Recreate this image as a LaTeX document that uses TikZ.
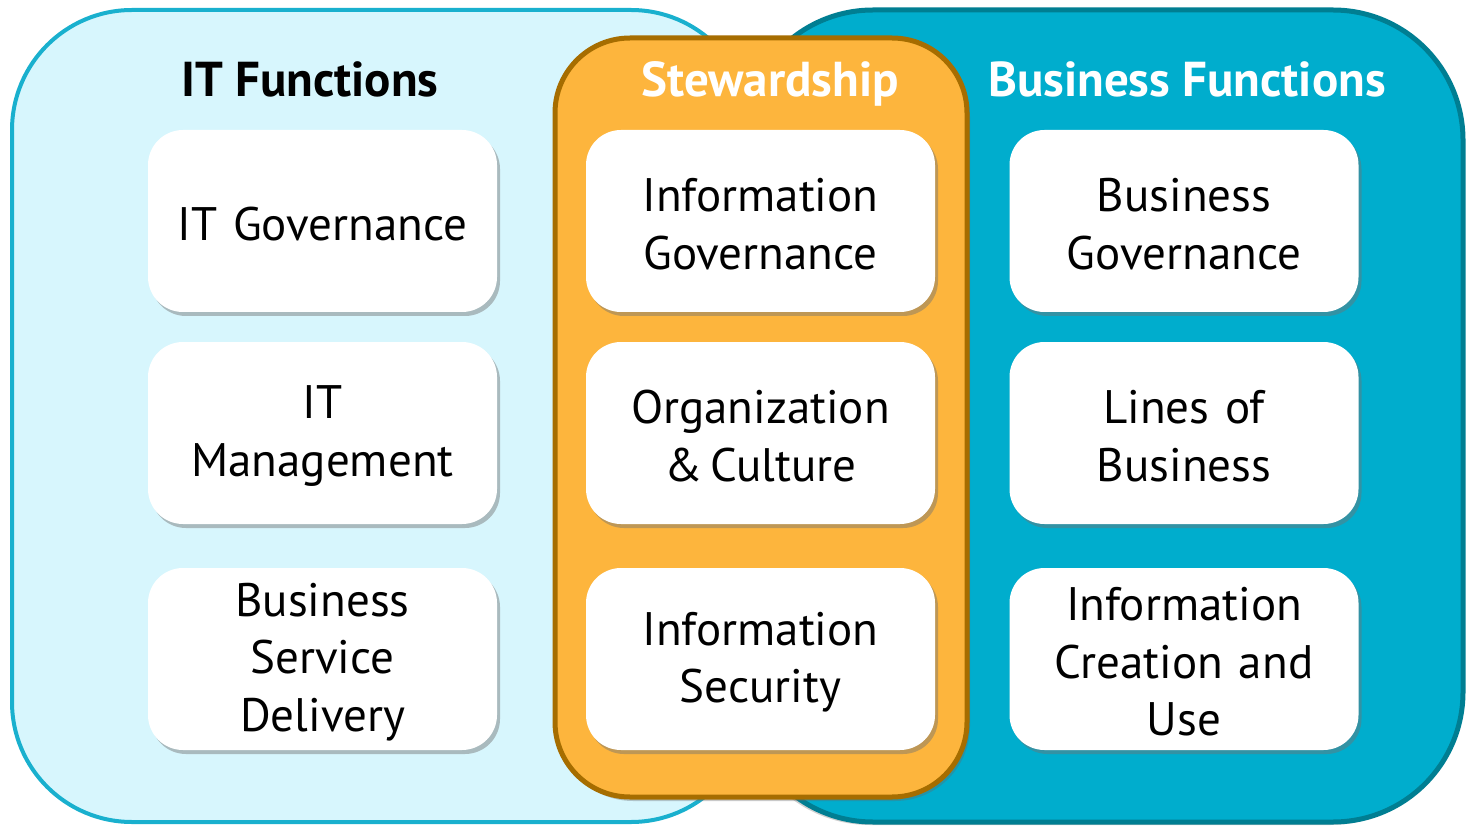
\documentclass[tikz,border=0pt]{standalone}
\usepackage{fontspec}
\setmainfont{PT Sans}
\usetikzlibrary{shadows}
\definecolor{ltfill}{HTML}{D7F6FD}
\definecolor{ltline}{HTML}{19B0CE}
\definecolor{dkfill}{HTML}{00ADCD}
\definecolor{dkline}{HTML}{007E92}
\definecolor{orfill}{HTML}{FDB53D}
\definecolor{orline}{HTML}{A66D00}
\tikzset{
  container/.style={rectangle, inner sep=0pt, outer sep=0pt},
  wbox/.style={rectangle, rounded corners=35pt, fill=white, minimum width=349pt, minimum height=182pt,
    inner sep=0pt,
    drop shadow={shadow xshift=3pt, shadow yshift=-4pt, fill=black!55, opacity=0.45}},
  wtext/.style={text width=340pt, align=center, inner sep=0pt, font=\fontsize{47}{57.5}\selectfont, yshift=-3pt},
  title/.style={font=\bfseries\fontsize{49}{58}\selectfont, inner sep=0pt, anchor=base}
}
\begin{document}
\begin{tikzpicture}[x=1pt,y=-1pt]
\useasboundingbox (0,0) rectangle (1467,826);
\fill[white] (0,0) rectangle (1467,826);
\node[container, draw=ltline, line width=4pt, fill=ltfill, rounded corners=120pt,
  minimum width=739pt, minimum height=812pt] (left) at (381.5,416) {};
\node[container, draw=dkline, line width=5pt, fill=dkfill, rounded corners=130pt,
  minimum width=720pt, minimum height=812pt,
  drop shadow={shadow xshift=-3pt, shadow yshift=-3pt, fill=black!60, opacity=0.3}] (right) at (1103,416) {};
\node[container, draw=orline, line width=5pt, fill=orfill, rounded corners=75pt,
  minimum width=412pt, minimum height=759pt,
  drop shadow={shadow xshift=3pt, shadow yshift=-4pt, fill=black!60, opacity=0.35}] (mid) at (761,417.5) {};

\node[title, text=black] (t1) at (310,97) {IT Functions};
\node[title, text=white] (t2) at (770,97) {Stewardship};
\node[title, text=white] (t3) at (1187,97) {Business Functions};

\node[wbox] (a1) at (322.5,221) {};
\node[wbox] (a2) at (322.5,433) {};
\node[wbox] (a3) at (322.5,659) {};
\node[wbox] (b1) at (760.5,221) {};
\node[wbox] (b2) at (760.5,433) {};
\node[wbox] (b3) at (760.5,659) {};
\node[wbox] (c1) at (1184,221) {};
\node[wbox] (c2) at (1184,433) {};
\node[wbox] (c3) at (1184,659) {};

\node[wtext] (a1t) at (a1.center) {IT Governance};
\node[wtext] (a2t) at (a2.center) {IT\\Management};
\node[wtext] (a3t) at (a3.center) {Business\\Service\\Delivery};
\node[wtext] (b1t) at (b1.center) {Information\\Governance};
\node[wtext] (b2t) at (b2.center) {Organization\\\&\,Culture};
\node[wtext] (b3t) at (b3.center) {Information\\Security};
\node[wtext] (c1t) at (c1.center) {Business\\Governance};
\node[wtext] (c2t) at (c2.center) {Lines of\\Business};
\node[wtext] (c3t) at (c3.center) {Information\\Creation and\\Use};
\end{tikzpicture}
\end{document}
